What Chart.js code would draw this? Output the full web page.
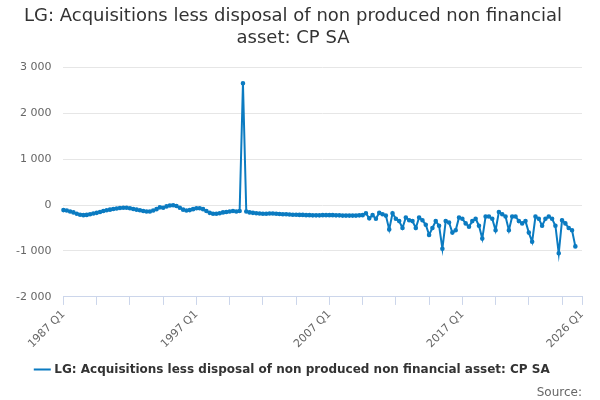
<!DOCTYPE html>
<html>
<head>
<meta charset="utf-8">
<script src="https://cdn.jsdelivr.net/npm/chart.js@4"></script>
<style>
  html, body { margin: 0; padding: 0; background: #fff; }
  #wrap { width: 600px; height: 400px; }
</style>
</head>
<body>
<div id="wrap"><canvas id="chart"></canvas></div>
<script>
// quarterly labels 1987 Q1 .. 2026 Q1
const labels = [];
for (let y = 1987; y <= 2026; y++) {
  for (let q = 1; q <= 4; q++) {
    if (y === 2026 && q > 1) break;
    labels.push(y + " Q" + q);
  }
}

const values = [
  -110, -120, -140, -160, -190, -210, -220, -215, -200, -185,
  -170, -150, -130, -115, -100, -85, -75, -65, -60, -60,
  -70, -85, -100, -115, -130, -140, -140, -120, -90, -50,
  -60, -30, -10, -5, -20, -60, -100, -120, -110, -90,
  -70, -70, -90, -130, -170, -190, -190, -180, -160, -150,
  -140, -130, -140, -130, 2650,
  -140, -160, -170, -180, -185, -190, -190, -185, -185, -190,
  -195, -200, -200, -205, -210, -210, -215, -215, -220, -220,
  -225, -225, -225, -220, -220, -220, -220, -225, -225, -230,
  -230, -230, -230, -230, -225, -220, -180, -290,
  -220, -300, -170, -200, -230, -530, -180, -300, -350, -500,
  -270, -330, -350, -500, -270, -330, -430, -650, -500, -350,
  -450, -950, -350, -380, -600, -550, -270, -300, -400, -470,
  -350, -300, -450, -730, -250, -250, -300, -550, -150, -200,
  -250, -550, -250, -250, -350, -400, -350, -600, -800, -250,
  -300, -450, -300, -250, -300, -450, -1050, -330, -400, -500,
  -550, -900
];

const seriesName = "LG: Acquisitions less disposal of non produced non financial asset: CP SA";
const last = labels.length - 1;

new Chart(document.getElementById("chart"), {
  type: "line",
  data: {
    labels: labels,
    datasets: [{
      label: seriesName,
      data: values,
      borderColor: "#0b7bc1",
      backgroundColor: "#0b7bc1",
      borderWidth: 2,
      pointRadius: 1.3,
      pointHoverRadius: 3,
      tension: 0
    }]
  },
  options: {
    responsive: true,
    maintainAspectRatio: false,
    animation: false,
    layout: { padding: { left: 4, right: 18, top: 4, bottom: 0 } },
    plugins: {
      title: {
        display: true,
        text: ["LG: Acquisitions less disposal of non produced non financial", "asset: CP SA"],
        color: "#333",
        font: { family: "DejaVu Sans", size: 18, weight: "normal" },
        padding: { top: 2, bottom: 18 }
      },
      subtitle: {
        display: true,
        position: "bottom",
        align: "end",
        text: "Source:",
        color: "#666",
        font: { family: "DejaVu Sans", size: 12 },
        padding: { top: 0, bottom: 0 }
      },
      legend: {
        position: "bottom",
        labels: {
          usePointStyle: true,
          pointStyle: "line",
          color: "#333",
          font: { family: "DejaVu Sans", size: 12, weight: "bold" },
          padding: 10
        }
      },
      tooltip: { enabled: false }
    },
    scales: {
      x: {
        grid: { display: true, drawOnChartArea: false, tickColor: "#ccd6eb", tickLength: 8 },
        border: { color: "#ccd6eb" },
        ticks: {
          autoSkip: false,
          maxRotation: 45,
          minRotation: 45,
          color: "#666",
          font: { family: "DejaVu Sans", size: 11 },
          callback: function (v, i) {
            if (i % 10 !== 0 && i !== last) return null;
            return (i % 40 === 0 || i === last) ? labels[i] : "";
          }
        }
      },
      y: {
        min: -2000,
        max: 3000,
        grid: { color: "#e6e6e6", drawTicks: false },
        border: { display: false },
        ticks: {
          stepSize: 1000,
          padding: 12,
          color: "#666",
          font: { family: "DejaVu Sans", size: 11 },
          callback: v => String(v).replace(/\B(?=(\d{3})+(?!\d))/g, " ")
        }
      }
    }
  }
});
</script>
</body>
</html>
